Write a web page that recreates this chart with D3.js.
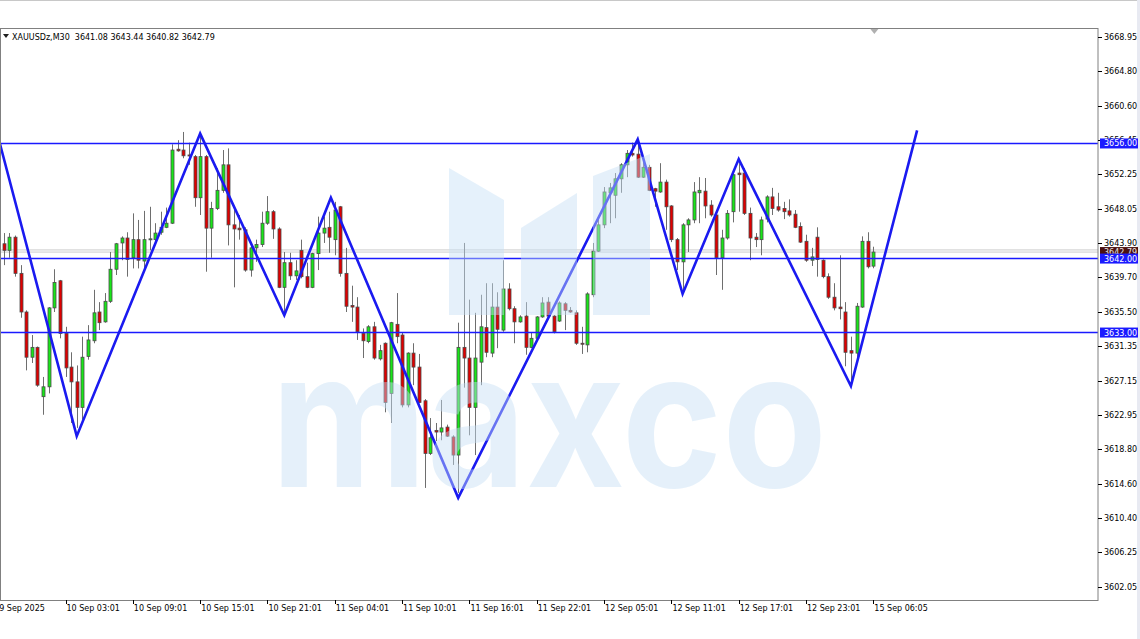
<!DOCTYPE html>
<html>
<head>
<meta charset="utf-8">
<script src="https://cdn.jsdelivr.net/npm/d3@7"></script>
<style>
body { margin: 0; background: #fff; }
svg { display: block; font-family: "DejaVu Sans", sans-serif; }
</style>
</head>
<body>
<svg width="1140" height="639"></svg>
<script>
// XAUUSDz M30 candles, bar 0 .. 155 (last one is the live bar)
var opens = [
  3643.8,3643.0,3644.6,3640.2,3635.5,3630.0,3631.2,3625.2,3626.4,3636.0,
  3639.3,3632.9,3628.8,3627.0,3623.9,3630.1,3632.0,3635.5,3634.3,3636.8,
  3640.7,3643.9,3644.5,3642.1,3644.3,3641.7,3644.3,3644.3,3645.2,3645.8,
  3646.3,3655.3,3655.2,3654.6,3654.4,3649.4,3654.4,3645.7,3648.1,3650.3,
  3653.4,3646.1,3645.7,3645.5,3640.6,3643.3,3643.7,3646.3,3647.7,3645.6,
  3638.5,3641.5,3639.9,3643.0,3639.8,3638.5,3642.6,3645.1,3645.8,3644.3,
  3648.3,3640.2,3636.3,3636.1,3632.9,3631.9,3633.7,3629.8,3631.7,3625.6,
  3634.0,3632.7,3624.2,3630.5,3628.8,3624.7,3618.3,3621.1,3620.9,3621.5,
  3620.3,3618.1,3631.2,3629.9,3623.9,3629.4,3633.6,3630.5,3636.1,3633.3,
  3638.3,3635.9,3634.3,3635.0,3631.2,3632.3,3634.9,3636.7,3635.0,3634.4,
  3636.5,3635.7,3635.4,3631.7,3631.5,3637.6,3642.9,3646.1,3650.0,3649.7,
  3651.7,3653.4,3654.8,3654.7,3651.9,3653.1,3650.5,3650.1,3651.3,3648.4,
  3644.3,3641.6,3646.1,3646.7,3650.0,3650.2,3648.5,3647.3,3642.1,3644.5,
  3647.7,3652.4,3652.4,3647.5,3644.6,3644.3,3646.8,3649.5,3648.3,3648.1,
  3647.8,3647.4,3645.9,3644.1,3641.8,3644.6,3641.8,3639.8,3637.3,3636.1,
  3635.5,3630.8,3630.5,3636.1,3644.1,3641.08
];
var highs = [
  3645.1,3645.1,3644.8,3641.2,3635.7,3632.7,3631.3,3627.6,3636.1,3640.7,
  3639.4,3633.7,3630.6,3629.0,3632.5,3633.9,3638.2,3636.7,3637.8,3642.8,
  3643.9,3644.7,3645.2,3647.5,3646.7,3647.8,3648.3,3646.3,3647.7,3648.2,
  3655.9,3656.4,3657.4,3656.1,3654.6,3657.0,3654.6,3648.9,3653.0,3655.2,
  3655.4,3648.3,3647.3,3645.8,3643.6,3644.3,3647.7,3649.6,3647.9,3645.8,
  3642.8,3642.7,3641.8,3644.3,3641.5,3642.7,3647.1,3647.1,3647.7,3648.9,
  3648.4,3643.3,3638.7,3637.3,3633.5,3633.9,3634.3,3631.5,3631.8,3634.3,
  3637.8,3633.0,3630.6,3631.7,3630.4,3624.9,3622.6,3622.0,3624.8,3621.8,
  3620.5,3634.2,3643.9,3637.0,3635.4,3637.6,3639.0,3639.0,3637.9,3641.8,
  3639.0,3636.2,3635.1,3636.7,3633.0,3635.0,3637.3,3637.3,3635.1,3636.8,
  3636.7,3636.1,3635.7,3633.7,3637.9,3643.9,3646.9,3650.7,3651.2,3652.4,
  3653.6,3655.2,3656.1,3655.9,3654.4,3653.4,3650.6,3653.6,3651.6,3648.5,
  3644.5,3646.3,3646.9,3651.3,3651.9,3651.8,3649.1,3647.5,3645.5,3647.9,
  3652.5,3653.6,3653.0,3648.2,3645.1,3647.1,3649.7,3650.6,3650.0,3648.9,
  3649.2,3647.9,3646.4,3644.9,3643.3,3645.8,3641.9,3640.2,3639.0,3642.4,
  3636.7,3632.5,3636.6,3644.7,3645.2,3643.44
];
var lows = [
  3641.2,3642.1,3639.8,3634.8,3628.4,3629.3,3626.4,3623.0,3625.6,3635.5,
  3632.3,3627.6,3622.0,3621.4,3622.4,3629.7,3631.7,3633.3,3634.2,3636.6,
  3640.0,3641.8,3639.8,3640.8,3640.8,3640.6,3643.0,3644.0,3644.9,3645.7,
  3646.2,3655.0,3654.2,3653.4,3648.3,3647.3,3640.4,3642.1,3647.9,3650.0,
  3643.6,3638.5,3644.3,3640.4,3639.8,3641.6,3643.4,3646.1,3644.4,3638.4,
  3635.4,3639.4,3639.4,3639.6,3638.4,3638.4,3640.6,3643.9,3642.7,3642.4,
  3639.8,3635.5,3634.3,3632.1,3629.9,3631.7,3629.7,3629.6,3623.3,3622.0,
  3631.7,3623.9,3623.9,3626.6,3624.4,3614.1,3618.1,3619.8,3619.9,3620.3,
  3616.9,3613.5,3626.3,3620.5,3618.1,3626.6,3630.0,3630.0,3631.1,3633.1,
  3635.7,3631.7,3634.2,3630.3,3631.1,3632.1,3634.8,3634.9,3632.9,3634.3,
  3633.3,3635.4,3631.5,3630.4,3630.6,3637.3,3642.8,3645.7,3646.3,3646.9,
  3650.0,3651.9,3654.4,3651.8,3651.8,3650.2,3648.3,3650.0,3645.5,3644.0,
  3640.6,3637.8,3642.8,3646.3,3646.3,3646.9,3647.1,3640.0,3638.2,3644.3,
  3646.4,3647.7,3647.3,3641.8,3643.4,3642.4,3646.4,3647.3,3647.7,3646.8,
  3647.1,3645.7,3643.9,3641.6,3641.1,3639.8,3639.6,3637.1,3635.7,3634.6,
  3628.9,3627.0,3629.8,3636.0,3640.8,3640.82
];
var closes = [
  3643.0,3644.6,3640.2,3635.5,3630.0,3631.2,3626.6,3626.4,3636.0,3639.1,
  3632.9,3628.7,3627.0,3623.9,3630.0,3632.1,3635.4,3634.2,3636.8,3640.7,
  3643.8,3644.5,3641.9,3644.3,3641.8,3644.3,3644.4,3645.1,3645.8,3646.3,
  3655.2,3655.1,3654.5,3654.5,3649.4,3654.4,3645.7,3648.1,3650.3,3653.4,
  3646.1,3645.6,3645.5,3640.6,3643.3,3643.7,3646.3,3647.7,3645.6,3638.5,
  3641.5,3639.9,3640.5,3639.8,3638.5,3642.6,3645.1,3645.7,3644.6,3647.9,
  3640.2,3636.2,3636.1,3633.1,3632.0,3633.7,3629.9,3630.8,3624.5,3634.2,
  3632.5,3624.2,3630.5,3628.8,3624.5,3618.3,3620.2,3620.9,3621.4,3620.4,
  3618.1,3631.2,3629.9,3623.9,3629.9,3633.7,3630.6,3636.1,3633.4,3638.3,
  3635.9,3634.3,3634.9,3631.2,3632.3,3634.9,3636.6,3635.0,3633.1,3636.6,
  3635.7,3635.5,3631.7,3631.6,3637.7,3642.9,3646.1,3650.1,3650.6,3651.7,
  3653.4,3654.8,3654.6,3651.9,3653.1,3650.3,3650.2,3651.3,3648.3,3644.3,
  3641.6,3646.1,3646.7,3650.1,3650.3,3648.4,3647.3,3642.1,3644.5,3647.5,
  3652.2,3652.2,3647.5,3644.5,3644.3,3646.7,3649.5,3648.1,3647.9,3647.7,
  3647.3,3645.8,3644.0,3641.8,3642.2,3641.9,3639.8,3637.3,3636.0,3635.9,
  3630.6,3630.5,3636.2,3644.1,3641.0,3642.79
];

var timeLabels = ["9 Sep 2025", "10 Sep 03:01", "10 Sep 09:01", "10 Sep 15:01", "10 Sep 21:01",
  "11 Sep 04:01", "11 Sep 10:01", "11 Sep 16:01", "11 Sep 22:01", "12 Sep 05:01",
  "12 Sep 11:01", "12 Sep 17:01", "12 Sep 23:01", "15 Sep 06:05"];
var timeLabelBars = [-1, 11, 23, 35, 47, 59, 71, 83, 95, 107, 119, 131, 143, 155];

var priceTicks = [3668.95, 3664.80, 3660.60, 3656.45, 3652.25, 3648.05, 3643.90, 3639.70,
  3635.50, 3631.35, 3627.15, 3622.95, 3618.80, 3614.60, 3610.40, 3606.25, 3602.05];

// horizontal levels drawn on the chart
var levels = [3656.00, 3642.00, 3633.00];

// zigzag swing points (bar index, price)
var zigBars = [-0.7, 13, 35, 50, 58.3, 81, 113, 121, 131, 151, 162.8];
var zigPrices = [3656.0, 3620.4, 3657.2, 3635.1, 3649.4, 3612.9, 3656.5, 3637.7, 3654.1, 3626.5, 3657.6];

var symbol = "XAUUSDz,M30";
var bid = 3642.79, ask = 3643.05;

var svg = d3.select("svg"),
    width = +svg.attr("width"),
    height = +svg.attr("height");

var plotL = 0, plotR = 1098, plotT = 28, plotB = 600;

var x = d3.scaleLinear().domain([0, 155]).range([3.8, 3.8 + 5.61 * 155]);
var y = d3.scaleLinear().domain([3602.05, 3668.95]).range([587, 37]);

svg.append("rect").attr("width", width).attr("height", height).attr("fill", "#fff");

svg.append("defs").append("clipPath").attr("id", "plotclip")
  .append("rect").attr("x", plotL).attr("y", plotT).attr("width", plotR - plotL).attr("height", plotB - plotT);

var plot = svg.append("g").attr("clip-path", "url(#plotclip)");

// bid / ask lines
plot.selectAll(".quote")
  .data([ask, bid])
  .enter().append("line")
  .attr("x1", plotL).attr("x2", plotR)
  .attr("y1", function(d) { return y(d); })
  .attr("y2", function(d) { return y(d); })
  .attr("stroke", "#cccccc")
  .attr("stroke-width", 1);

var candles = opens.map(function(o, i) {
  return { i: i, o: o, h: highs[i], l: lows[i], c: closes[i] };
});

var bar = plot.selectAll(".bar")
  .data(candles)
  .enter().append("g")
  .attr("class", "bar");

bar.append("line")
  .attr("x1", function(d) { return Math.round(x(d.i)) + 0.5; })
  .attr("x2", function(d) { return Math.round(x(d.i)) + 0.5; })
  .attr("y1", function(d) { return y(d.h); })
  .attr("y2", function(d) { return y(d.l); })
  .attr("stroke", "#6e6e6e")
  .attr("stroke-width", 1);

bar.append("rect")
  .attr("x", function(d) { return Math.round(x(d.i)) - 1; })
  .attr("width", 3)
  .attr("y", function(d) { return y(Math.max(d.o, d.c)); })
  .attr("height", function(d) { return Math.max(1, Math.abs(y(d.o) - y(d.c))); })
  .attr("fill", function(d) { return d.c >= d.o ? "#19e619" : "#e00000"; })
  .attr("stroke", "#4a4a4a")
  .attr("stroke-width", 0.8);

// levels
plot.selectAll(".level")
  .data(levels)
  .enter().append("line")
  .attr("x1", plotL).attr("x2", plotR)
  .attr("y1", function(d) { return y(d); })
  .attr("y2", function(d) { return y(d); })
  .attr("stroke", "#1a1aff")
  .attr("stroke-width", 1.6);

// zigzag
var zig = d3.line()
  .x(function(d, i) { return x(zigBars[i]); })
  .y(function(d) { return y(d); });

plot.append("path")
  .datum(zigPrices)
  .attr("d", zig)
  .attr("fill", "none")
  .attr("stroke", "#1a1af0")
  .attr("stroke-width", 2.6)
  .attr("stroke-linejoin", "miter");

// watermark (drawn over the chart, semi transparent)
var wm = plot.append("g").attr("fill", "rgb(198,224,246)").attr("opacity", 0.45);
wm.append("path").attr("d", "M449,168 L504,200 L504,315 L449,315 Z");
wm.append("path").attr("d", "M521,228 L577,193 L577,315 L521,315 Z");
wm.append("path").attr("d", "M593,176 L650,154 L650,315 L593,315 Z");
wm.append("text")
  .attr("x", 271).attr("y", 487)
  .attr("textLength", 556)
  .attr("lengthAdjust", "spacingAndGlyphs")
  .style("font-family", "Inter, 'DejaVu Sans', sans-serif")
  .style("font-weight", 700)
  .style("font-size", "190px")
  .text("maxco");

// frame
svg.append("rect")
  .attr("x", plotL + 0.5).attr("y", plotT + 0.5)
  .attr("width", plotR - plotL - 0.5).attr("height", plotB - plotT)
  .attr("fill", "none").attr("stroke", "#808080").attr("stroke-width", 1);

svg.append("line").attr("x1", 0).attr("x2", width).attr("y1", 0.5).attr("y2", 0.5)
  .attr("stroke", "#c8c8c8");
svg.append("rect").attr("x", 1137).attr("y", 0).attr("width", 3).attr("height", height)
  .attr("fill", "#e8eaf2");

// chart shift marker
svg.append("path")
  .attr("d", "M" + (x(155) + 1) + "," + (plotT + 1) + " l-4,0 l4,5 l4,-5 z")
  .attr("fill", "#b0b0b0");

// header
var header = svg.append("g").attr("transform", "translate(3,40)");
header.append("path").attr("d", "M0,-6 L6,-6 L3,-2 Z").attr("fill", "#202020");
header.append("text")
  .attr("x", 9).attr("y", 0)
  .attr("font-size", "8px").attr("fill", "#000")
  .attr("xml:space", "preserve")
  .text(symbol + "  " + [opens[155], highs[155], lows[155], closes[155]].map(function(v) { return v.toFixed(2); }).join(" "));

// price axis
var pAxis = svg.append("g");
pAxis.selectAll(".ptick")
  .data(priceTicks)
  .enter().append("line")
  .attr("x1", plotR).attr("x2", plotR + 4)
  .attr("y1", function(d) { return Math.round(y(d)) + 0.5; })
  .attr("y2", function(d) { return Math.round(y(d)) + 0.5; })
  .attr("stroke", "#000");
pAxis.selectAll(".plabel")
  .data(priceTicks)
  .enter().append("text")
  .attr("x", plotR + 6)
  .attr("y", function(d) { return y(d) + 3; })
  .attr("font-size", "8px")
  .attr("fill", "#000")
  .text(function(d) { return d.toFixed(2); });

// current price label
pAxis.append("rect")
  .attr("x", plotR + 2).attr("y", y(bid) - 5)
  .attr("width", 38).attr("height", 10)
  .attr("fill", "#4a1010");
pAxis.append("text")
  .attr("x", plotR + 6).attr("y", y(bid) + 3)
  .attr("font-size", "8px").attr("fill", "#e8e8e8")
  .text(bid.toFixed(2));

// level labels
var lv = pAxis.selectAll(".lvl")
  .data(levels)
  .enter().append("g");
lv.append("rect")
  .attr("x", plotR + 2)
  .attr("y", function(d) { return y(d) - 5; })
  .attr("width", 38).attr("height", 10)
  .attr("fill", "#1a1aff");
lv.append("text")
  .attr("x", plotR + 6)
  .attr("y", function(d) { return y(d) + 3; })
  .attr("font-size", "8px").attr("fill", "#fff")
  .text(function(d) { return d.toFixed(2); });

// time axis
var tAxis = svg.append("g");
tAxis.selectAll(".ttick")
  .data(timeLabelBars)
  .enter().append("line")
  .attr("x1", function(d) { return Math.round(x(d)) + 0.5; })
  .attr("x2", function(d) { return Math.round(x(d)) + 0.5; })
  .attr("y1", plotB).attr("y2", plotB + 4)
  .attr("stroke", "#000");
tAxis.selectAll(".tlabel")
  .data(timeLabels)
  .enter().append("text")
  .attr("x", function(d, i) { return x(timeLabelBars[i]) + 1; })
  .attr("y", plotB + 11)
  .attr("font-size", "8px")
  .attr("fill", "#000")
  .text(function(d) { return d; });
</script>
</body>
</html>
